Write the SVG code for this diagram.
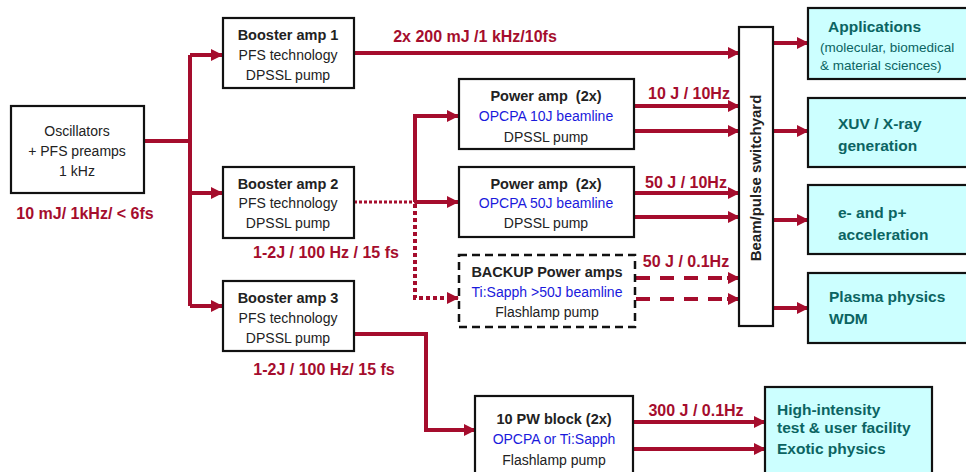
<svg xmlns="http://www.w3.org/2000/svg" width="966" height="472" viewBox="0 0 966 472">
<style>
text{font-family:"Liberation Sans",Arial,sans-serif;font-size:14px;fill:#222;text-anchor:middle}
.b{font-weight:bold;font-size:14.5px}
.blue{fill:#1a1adc}
.red{fill:#a50d2d;font-weight:bold;font-size:16px}
.teal{fill:#0b6462;font-weight:bold;text-anchor:start;font-size:15.5px}
.sm{fill:#0b6462;text-anchor:start;font-size:13.5px}
.box{fill:#fff;stroke:#111;stroke-width:2.2}
.cy{fill:#ccffff;stroke:#111;stroke-width:2.2}
.ln{fill:none;stroke:#a50d2d;stroke-width:4}
</style>
<defs>
<marker id="ah" markerUnits="userSpaceOnUse" markerWidth="12" markerHeight="12" refX="11" refY="6" orient="auto"><path d="M0,0 L12,6 L0,12 z" fill="#a50d2d"/></marker>
</defs>
<rect width="966" height="472" fill="#fff"/>
<g id="connectors">
<path class="ln" d="M144,141 H190"/>
<path class="ln" d="M190,55 V306"/>
<path class="ln" d="M190,55 H222" marker-end="url(#ah)"/>
<path class="ln" d="M190,193 H222" marker-end="url(#ah)"/>
<path class="ln" d="M190,306 H222" marker-end="url(#ah)"/>
<path class="ln" d="M354,53 H739" marker-end="url(#ah)"/>
<path class="ln" style="stroke-width:3;stroke-dasharray:3,2" d="M354,202 H415"/>
<path class="ln" d="M415,202 H458" marker-end="url(#ah)"/>
<path class="ln" d="M415,202 V116 H458" marker-end="url(#ah)"/>
<path class="ln" style="stroke-dasharray:4,3" d="M415,204 V298 H448"/>
<path class="ln" d="M448,298 H458" marker-end="url(#ah)"/>
<path class="ln" d="M634,106 H739" marker-end="url(#ah)"/>
<path class="ln" d="M634,131 H739" marker-end="url(#ah)"/>
<path class="ln" d="M634,193 H739" marker-end="url(#ah)"/>
<path class="ln" d="M634,217 H739" marker-end="url(#ah)"/>
<path class="ln" style="stroke-dasharray:14,10" d="M636,278 H728"/>
<path class="ln" d="M727,278 H739" marker-end="url(#ah)"/>
<path class="ln" style="stroke-dasharray:14,10" d="M636,299 H728"/>
<path class="ln" d="M727,299 H739" marker-end="url(#ah)"/>
<path class="ln" d="M773,43 H808" marker-end="url(#ah)"/>
<path class="ln" d="M773,131 H808" marker-end="url(#ah)"/>
<path class="ln" d="M773,220 H808" marker-end="url(#ah)"/>
<path class="ln" d="M773,308 H808" marker-end="url(#ah)"/>
<path class="ln" d="M354,334 H426 V430 H475" marker-end="url(#ah)"/>
<path class="ln" d="M633,422 H765" marker-end="url(#ah)"/>
<path class="ln" d="M633,449 H765" marker-end="url(#ah)"/>
</g>
<g id="labels">
<text class="red" x="85" y="219">10 mJ/ 1kHz/ &lt; 6fs</text>
<text class="red" x="475" y="42">2x 200 mJ /1 kHz/10fs</text>
<text class="red" x="326" y="258">1-2J / 100 Hz / 15 fs</text>
<text class="red" x="324" y="375">1-2J / 100 Hz/ 15 fs</text>
<text class="red" x="689" y="99">10 J / 10Hz</text>
<text class="red" x="686" y="188">50 J / 10Hz</text>
<text class="red" x="686" y="267">50 J / 0.1Hz</text>
<text class="red" x="696" y="416">300 J / 0.1Hz</text>
</g>
<g id="oscillators">
<rect class="box" x="11" y="106" width="133" height="87"/>
<text x="77" y="136">Oscillators</text>
<text x="77" y="156">+ PFS preamps</text>
<text x="77" y="176">1 kHz</text>
</g>
<g id="booster1">
<rect class="box" x="223" y="18" width="131" height="70"/>
<text class="b" x="288" y="40">Booster amp 1</text>
<text x="288" y="60">PFS technology</text>
<text x="288" y="80">DPSSL pump</text>
</g>
<g id="booster2">
<rect class="box" x="223" y="167" width="131" height="71"/>
<text class="b" x="288" y="189">Booster amp 2</text>
<text x="288" y="208">PFS technology</text>
<text x="288" y="228">DPSSL pump</text>
</g>
<g id="booster3">
<rect class="box" x="223" y="281" width="131" height="70"/>
<text class="b" x="288" y="303">Booster amp 3</text>
<text x="288" y="323">PFS technology</text>
<text x="288" y="343">DPSSL pump</text>
</g>
<g id="poweramp1">
<rect class="box" x="459" y="79" width="175" height="70"/>
<text class="b" x="546" y="101">Power amp &#160;(2x)</text>
<text class="blue" x="546" y="121">OPCPA 10J beamline</text>
<text x="546" y="142">DPSSL pump</text>
</g>
<g id="poweramp2">
<rect class="box" x="459" y="167" width="175" height="70"/>
<text class="b" x="546" y="189">Power amp &#160;(2x)</text>
<text class="blue" x="546" y="208">OPCPA 50J beamline</text>
<text x="546" y="228">DPSSL pump</text>
</g>
<g id="backup">
<rect class="box" x="459" y="255" width="176" height="72" style="stroke-dasharray:8,5;stroke-width:2.5"/>
<text class="b" x="547" y="277">BACKUP Power amps</text>
<text class="blue" x="547" y="297">Ti:Sapph &gt;50J beamline</text>
<text x="547" y="317">Flashlamp pump</text>
</g>
<g id="pw10">
<rect class="box" x="475" y="396" width="158" height="78"/>
<text class="b" x="554" y="424">10 PW block (2x)</text>
<text class="blue" x="554" y="444">OPCPA or Ti:Sapph</text>
<text x="554" y="465">Flashlamp pump</text>
</g>
<g id="switchyard">
<rect class="box" x="739" y="27" width="34" height="299"/>
<text class="b" style="font-size:15px" transform="translate(761,178) rotate(-90)">Beam/pulse switchyard</text>
</g>
<g id="applications">
<rect class="cy" x="808" y="8" width="170" height="71"/>
<text class="teal" x="828" y="32">Applications</text>
<text class="sm" x="820" y="52">(molecular, biomedical</text>
<text class="sm" x="820" y="70">&amp; material sciences)</text>
</g>
<g id="xuv">
<rect class="cy" x="808" y="98" width="170" height="69"/>
<text class="teal" x="838" y="129">XUV / X-ray</text>
<text class="teal" x="838" y="151">generation</text>
</g>
<g id="accel">
<rect class="cy" x="808" y="185" width="170" height="69"/>
<text class="teal" x="838" y="218">e- and p+</text>
<text class="teal" x="838" y="240">acceleration</text>
</g>
<g id="plasma">
<rect class="cy" x="808" y="273" width="170" height="70"/>
<text class="teal" x="829" y="302">Plasma physics</text>
<text class="teal" x="829" y="324">WDM</text>
</g>
<g id="highintensity">
<rect class="cy" x="765" y="387" width="167" height="90"/>
<text class="teal" x="777" y="415">High-intensity</text>
<text class="teal" x="777" y="433">test &amp; user facility</text>
<text class="teal" x="777" y="454">Exotic physics</text>
</g>
</svg>
